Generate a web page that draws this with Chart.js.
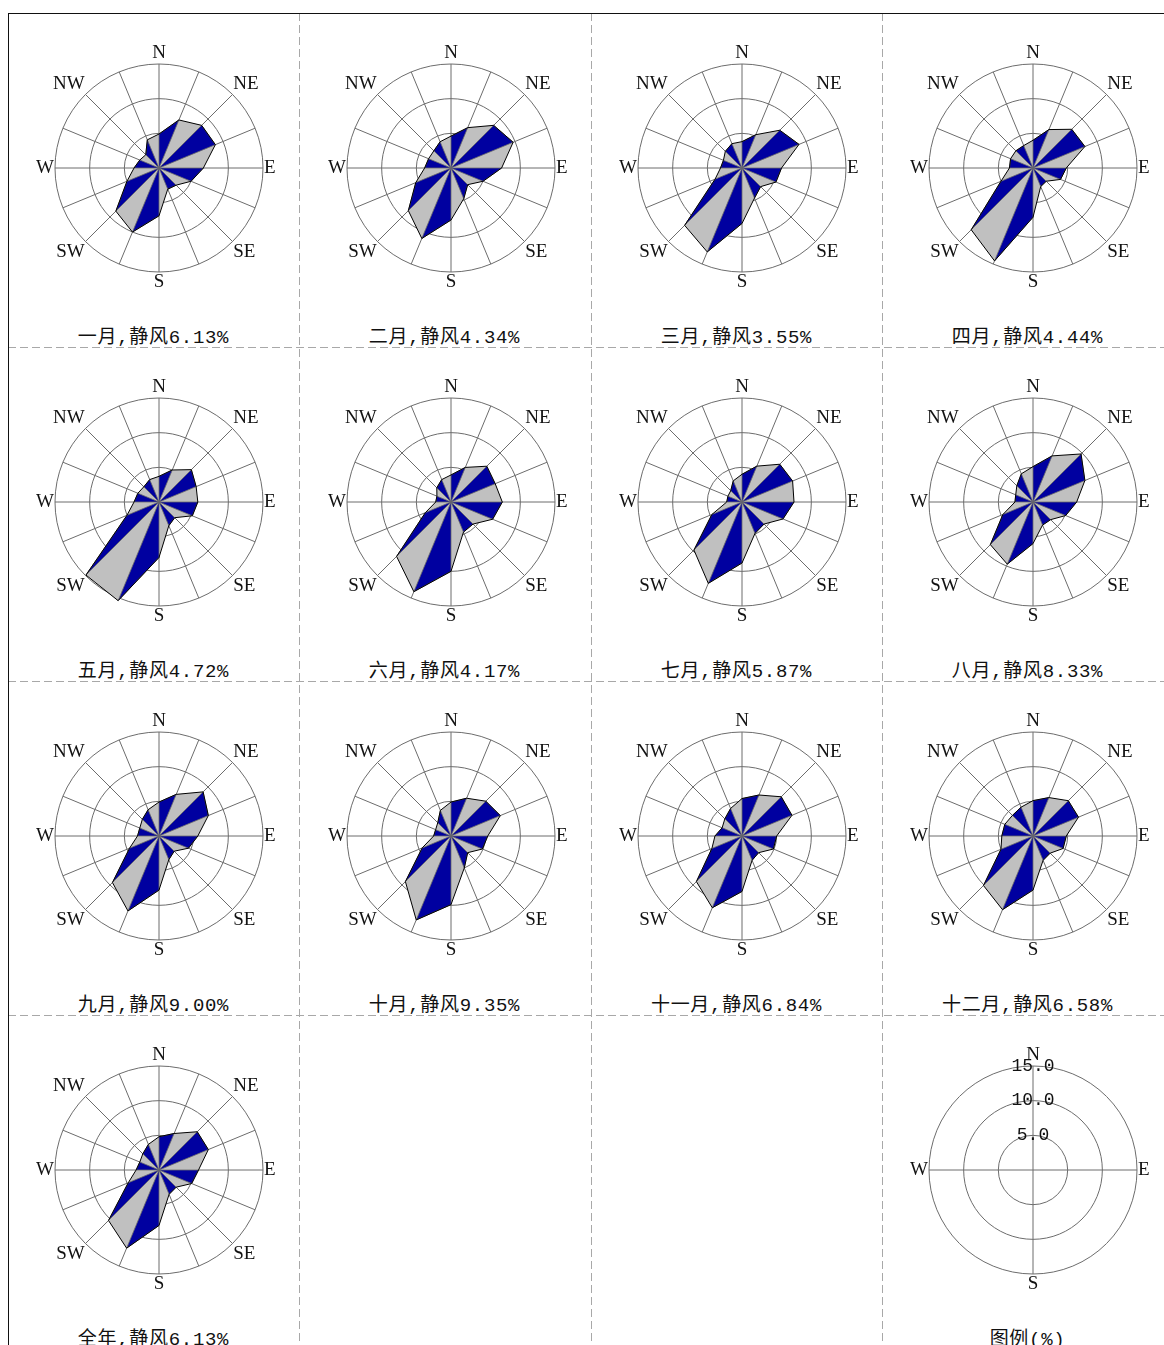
<!DOCTYPE html>
<html lang="zh">
<head>
<meta charset="utf-8">
<title>风向玫瑰图</title>
<script src="https://cdn.jsdelivr.net/npm/chart.js@4.4.1/dist/chart.umd.min.js"></script>
<style>
  html, body { margin: 0; padding: 0; background: #fff; }
  #sheet { position: relative; width: 1164px; height: 1345px; overflow: hidden; }
  #frame { position: absolute; left: 0; top: 0; }
  #sheet canvas { position: absolute; }
  .cap {
    position: absolute; text-align: center; white-space: nowrap; color: #111;
    font-family: 'Liberation Mono', 'Noto Sans CJK SC', monospace;
    font-size: 19px; line-height: 20px; letter-spacing: 0.7px;
  }
</style>
</head>
<body>
<div id="sheet">
  <svg id="frame" width="1164" height="1345" xmlns="http://www.w3.org/2000/svg"></svg>
</div>
<script>
// 16 compass points, clockwise from north
const directions = ['N', 'NNE', 'NE', 'ENE', 'E', 'ESE', 'SE', 'SSE', 'S', 'SSW', 'SW', 'WSW', 'W', 'WNW', 'NW', 'NNW'];
// only the eight main points carry a label
const directionLabels = ['N', '', 'NE', '', 'E', '', 'SE', '', 'S', '', 'SW', '', 'W', '', 'NW', ''];
const legendLabels = ['N', 'E', 'S', 'W'];

const periodNames = ['一月', '二月', '三月', '四月', '五月', '六月', '七月', '八月', '九月', '十月', '十一月', '十二月', '全年'];
const calmPct = [6.13, 4.34, 3.55, 4.44, 4.72, 4.17, 5.87, 8.33, 9.00, 9.35, 6.84, 6.58, 6.13];

// wind direction frequency (%), same order as `directions`
const jan = [4.9, 7.5, 8.7, 8.8, 6.4, 5.0, 3.5, 3.3, 6.9, 10.0, 8.8, 5.0, 3.6, 3.0, 2.7, 4.4];
const feb = [4.6, 6.3, 8.7, 9.7, 7.3, 5.0, 3.4, 4.8, 7.5, 11.0, 8.7, 5.5, 3.8, 3.5, 3.5, 4.1];
const mar = [3.8, 5.2, 7.7, 8.9, 5.7, 5.3, 3.8, 4.7, 8.0, 13.1, 11.7, 4.2, 3.1, 2.9, 3.4, 3.8];
const apr = [4.0, 6.0, 7.9, 8.1, 4.8, 4.3, 2.7, 2.9, 7.1, 14.5, 12.6, 5.0, 3.4, 3.5, 3.5, 3.5];
const may = [3.7, 5.0, 6.6, 5.8, 5.6, 5.2, 3.2, 3.7, 8.0, 15.4, 14.9, 5.0, 3.6, 3.3, 3.1, 3.5];
const jun = [3.9, 5.4, 7.3, 6.9, 7.4, 6.5, 4.5, 4.7, 10.0, 14.0, 11.1, 4.0, 2.2, 2.2, 2.9, 3.5];
const jul = [4.0, 5.6, 7.7, 7.9, 7.5, 6.4, 4.5, 4.9, 8.8, 12.7, 9.8, 4.7, 2.2, 2.2, 2.3, 3.3];
const aug = [5.1, 7.2, 9.8, 8.1, 6.3, 5.1, 3.6, 3.6, 6.0, 9.7, 8.7, 4.7, 2.6, 2.7, 3.3, 4.4];
const sep = [4.9, 6.5, 9.0, 7.7, 5.6, 4.6, 3.1, 3.7, 7.8, 11.7, 9.5, 4.6, 3.1, 3.0, 3.4, 4.1];
const oct = [4.9, 5.9, 7.1, 7.7, 5.3, 4.9, 3.4, 5.0, 9.9, 13.1, 9.3, 4.5, 2.5, 2.4, 2.7, 4.0];
const nov = [5.4, 6.4, 8.0, 7.8, 5.0, 4.9, 3.4, 3.8, 8.0, 11.2, 9.3, 4.7, 3.9, 3.1, 3.5, 4.3];
const dec = [5.1, 6.0, 7.2, 7.1, 4.8, 4.7, 3.5, 3.8, 7.8, 11.5, 10.1, 5.0, 4.5, 4.4, 4.2, 4.5];
const year = [4.8, 5.7, 7.8, 7.7, 5.7, 5.1, 3.5, 3.8, 8.0, 12.2, 10.3, 4.8, 3.3, 3.0, 3.3, 4.0];
const roses = [jan, feb, mar, apr, may, jun, jul, aug, sep, oct, nov, dec, year];

// radial axis range and ring step (%)
const axisMax = 15;
const ringStep = 5;

// ---- look ----
const BLUE = 'rgb(0,0,160)';
const GRAY = 'rgb(192,192,192)';
const EDGE = '#6a6a6a';
const GRID = '#6c6c6c';
const LATIN = "'Liberation Serif', 'DejaVu Serif', serif";
const TICK_SIZE = 18;

// ---- page layout ----
const LEFT0 = 8, TOP0 = 13, CELL_W = 291.33, CELL_H = 333.9, COLS = 4;
const ROSE_DX = 151.3, ROSE_DY = 155.3;      // rose centre inside its cell
const ROSE_SIZE = 248, ROSE_CX = 127, ROSE_CY = 124;   // centre Chart.js uses on a 248px canvas

const sheet = document.getElementById('sheet');
const frame = document.getElementById('frame');

function svgLine(x1, y1, x2, y2, stroke, dash) {
  const l = document.createElementNS('http://www.w3.org/2000/svg', 'line');
  l.setAttribute('x1', x1); l.setAttribute('y1', y1);
  l.setAttribute('x2', x2); l.setAttribute('y2', y2);
  l.setAttribute('stroke', stroke); l.setAttribute('stroke-width', 1);
  if (dash) l.setAttribute('stroke-dasharray', dash);
  frame.appendChild(l);
}

// cell frame: solid outer edge on top/left, dashed separators
for (let k = 1; k < 4; k++) {
  const x = Math.round(LEFT0 + k * CELL_W) + 0.5;
  svgLine(x, TOP0, x, 1345, '#a8a8a8', '8 4');
  const y = Math.round(TOP0 + k * CELL_H) + 0.5;
  svgLine(LEFT0, y, 1164, y, '#a8a8a8', '8 4');
}
svgLine(LEFT0, TOP0 + 0.5, 1164, TOP0 + 0.5, '#111');
svgLine(LEFT0 + 0.5, TOP0, LEFT0 + 0.5, 1345, '#111');

function cellOrigin(idx) {
  return { x: LEFT0 + (idx % COLS) * CELL_W, y: TOP0 + Math.floor(idx / COLS) * CELL_H };
}

function addCanvas(idx) {
  const o = cellOrigin(idx);
  const c = document.createElement('canvas');
  c.width = ROSE_SIZE; c.height = ROSE_SIZE;
  c.style.left = Math.round(o.x + ROSE_DX - ROSE_CX) + 'px';
  c.style.top = Math.round(o.y + ROSE_DY - ROSE_CY) + 'px';
  c.style.width = ROSE_SIZE + 'px'; c.style.height = ROSE_SIZE + 'px';
  sheet.appendChild(c);
  return c;
}

function addCaption(idx, text) {
  const o = cellOrigin(idx);
  const d = document.createElement('div');
  d.className = 'cap';
  d.style.left = Math.round(o.x) + 'px';
  d.style.width = Math.round(CELL_W) + 'px';
  d.style.top = Math.round(o.y + 315) + 'px';
  d.textContent = text;
  sheet.appendChild(d);
}

const baseOptions = {
  responsive: false,
  animation: false,
  events: [],
  plugins: { legend: { display: false }, tooltip: { enabled: false } },
  elements: { point: { radius: 0 }, line: { tension: 0 } }
};

function radialScale(ticks) {
  return {
    min: 0, max: axisMax, startAngle: 0,
    ticks: ticks || { display: false, stepSize: ringStep },
    grid: { circular: true, color: GRID, lineWidth: 1 },
    angleLines: { display: true, color: GRID, lineWidth: 1 },
    pointLabels: { display: true, padding: 1, color: '#111', font: { family: LATIN, size: 19, lineHeight: 1 } }
  };
}

function drawRose(canvas, values) {
  // alternate wedges: N–NNE, NE–ENE, ... in blue, the rest shows the grey body
  const wedges = [];
  for (let k = 0; k < directions.length / 2; k++) {
    const a = 2 * k, b = 2 * k + 1;
    wedges.push({
      data: values.map((v, i) => (i === a || i === b) ? v : 0),
      fill: true, backgroundColor: BLUE,
      borderColor: EDGE, borderWidth: 0.8, borderJoinStyle: 'bevel',
      pointRadius: 0, clip: false, order: 1
    });
  }
  new Chart(canvas, {
    type: 'radar',
    data: {
      labels: directionLabels,
      datasets: [
        { data: values, fill: false, borderColor: '#000', borderWidth: 1, pointRadius: 0, clip: false, order: 0 },
        ...wedges,
        { data: values, fill: true, backgroundColor: GRAY, borderColor: 'rgba(0,0,0,0)', borderWidth: 0, pointRadius: 0, clip: false, order: 2 }
      ]
    },
    options: Object.assign({}, baseOptions, { scales: { r: radialScale() } })
  });
}

roses.forEach((values, idx) => {
  drawRose(addCanvas(idx), values);
  addCaption(idx, periodNames[idx] + ',静风' + calmPct[idx].toFixed(2) + '%');
});

// scale key in the last cell: rings labelled in %, only the four cardinal spokes
(function drawKey() {
  const idx = 15;
  new Chart(addCanvas(idx), {
    type: 'radar',
    data: { labels: legendLabels, datasets: [] },
    options: Object.assign({}, baseOptions, {
      scales: {
        r: radialScale({
          display: true, stepSize: ringStep, showLabelBackdrop: false,
          // no backdrop is drawn, so keep it from reserving room round the rings
          backdropPadding: -TICK_SIZE / 2,
          color: '#111', font: { family: "'Liberation Mono', monospace", size: TICK_SIZE },
          callback: (v) => Number(v).toFixed(1)
        })
      }
    })
  });
  addCaption(idx, '图例(%)');
})();
</script>
</body>
</html>
